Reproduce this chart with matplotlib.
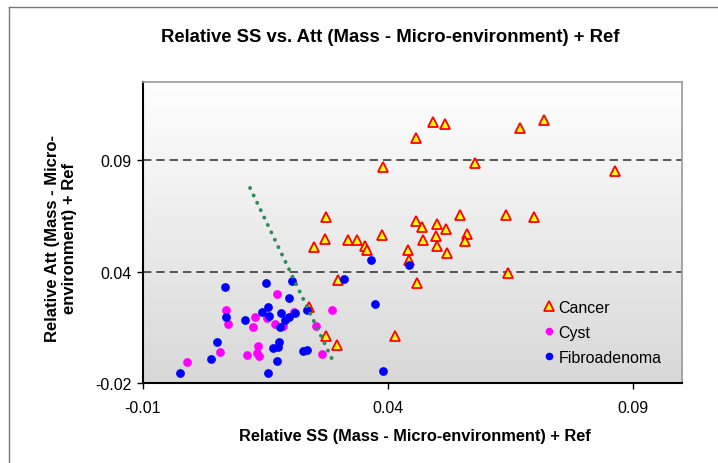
import matplotlib
matplotlib.use('Agg')
import matplotlib.pyplot as plt
import numpy as np
from matplotlib.lines import Line2D
from matplotlib.colors import LinearSegmentedColormap

plt.rcParams['font.family'] = ['Liberation Sans', 'DejaVu Sans']
plt.rcParams['lines.scale_dashes'] = False

title = 'Relative SS vs. Att (Mass - Micro-environment) + Ref'
x_label = 'Relative SS (Mass - Micro-environment) + Ref'
y_label = 'Relative Att (Mass - Micro-\nenvironment) + Ref'

cancer_x = [0.0492, 0.0516, 0.0670, 0.0719, 0.0457, 0.0390, 0.0578, 0.0864, 0.0274, 0.0548,
            0.0641, 0.0698, 0.0457, 0.0470, 0.0501, 0.0519, 0.0389, 0.0471, 0.0498, 0.0561,
            0.0558, 0.0501, 0.0520, 0.0441, 0.0443, 0.0645, 0.0460, 0.0249, 0.0271, 0.0318,
            0.0337, 0.0354, 0.0358, 0.0298, 0.0239, 0.0275, 0.0297, 0.0415]
cancer_y = [0.1021, 0.1015, 0.0997, 0.1033, 0.0951, 0.0818, 0.0837, 0.0802, 0.0594, 0.0606,
            0.0606, 0.0598, 0.0577, 0.0552, 0.0563, 0.0542, 0.0515, 0.0494, 0.0512, 0.0518,
            0.0490, 0.0466, 0.0435, 0.0446, 0.0402, 0.0346, 0.0299, 0.0463, 0.0496, 0.0494,
            0.0494, 0.0467, 0.0450, 0.0311, 0.0191, 0.0061, 0.0023, 0.0060]

cyst_x = [0.0174, 0.0069, 0.0075, 0.0130, 0.0125, 0.0153, 0.0169, 0.0187, 0.0208, 0.0253,
          0.0286, 0.0265, 0.0057, -0.0010, 0.0113, 0.0135, 0.0133, 0.0138]
cyst_y = [0.0250, 0.0177, 0.0118, 0.0149, 0.0104, 0.0141, 0.0118, 0.0109, 0.0170, 0.0107,
          0.0180, -0.0020, -0.0009, -0.0055, -0.0023, 0.0018, -0.0013, -0.0027]

fibro_x = [0.0067, 0.0152, 0.0205, 0.0198, 0.0155, 0.0144, 0.0157, 0.0069, 0.0108, 0.0183,
           0.0198, 0.0210, 0.0191, 0.0180, 0.0236, 0.0366, 0.0311, 0.0373, 0.0390, 0.0051,
           0.0039, -0.0024, 0.0155, 0.0175, 0.0179, 0.0166, 0.0177, 0.0228, 0.0236, 0.0444]
fibro_y = [0.0280, 0.0301, 0.0307, 0.0234, 0.0193, 0.0171, 0.0152, 0.0149, 0.0132, 0.0167,
           0.0149, 0.0163, 0.0132, 0.0104, 0.0179, 0.0404, 0.0319, 0.0205, -0.0096, 0.0035,
           -0.0040, -0.0103, -0.0103, -0.0048, 0.0033, 0.0008, 0.0011, -0.0007, 0.0000, 0.0381]

ref_line_x = [0.0119, 0.0288]
ref_line_y = [0.0726, -0.0049]

x_ticks = [-0.01, 0.04, 0.09]
x_tick_labels = ['-0.01', '0.04', '0.09']
y_ticks = [-0.015, 0.035, 0.085]
y_tick_labels = ['-0.02', '0.04', '0.09']
x_limits = (-0.01, 0.1)
y_limits = (-0.015, 0.12)

fig = plt.figure(figsize=(7.18, 4.64), dpi=100)
fig.patch.set_facecolor('white')
ax = fig.add_axes([0.1988, 0.1718, 0.7507, 0.6487])

# gradient background
grad = np.linspace(0, 1, 256).reshape(-1, 1)
cmap = LinearSegmentedColormap.from_list('bg', ['#ffffff', '#d8d8d8'])
ax.imshow(grad, extent=[0, 1, 0, 1], transform=ax.transAxes, cmap=cmap,
          aspect='auto', zorder=0, origin='upper', interpolation='bilinear')

for yv in y_ticks[1:]:
    ax.axhline(yv, color='#555555', lw=1.4, dashes=(6, 3.6), zorder=1)

ax.plot(cancer_x, cancer_y, linestyle='none', marker='^', markersize=6.5,
        markerfacecolor='#ffff00', markeredgecolor='#ff0000', markeredgewidth=1.3, zorder=3)
ax.plot(cyst_x, cyst_y, linestyle='none', marker='o', markersize=6.3,
        markerfacecolor='#ff00ff', markeredgecolor='#ff00ff', markeredgewidth=0, zorder=4)
ax.plot(fibro_x, fibro_y, linestyle='none', marker='o', markersize=6.3,
        markerfacecolor='#0000ff', markeredgecolor='#0000ff', markeredgewidth=0, zorder=5)
ax.plot(ref_line_x, ref_line_y, color='#2e8b57', lw=2.8, dashes=(0.1, 5.8),
        dash_capstyle='round', solid_capstyle='round', zorder=6)

ax.set_xlim(*x_limits)
ax.set_ylim(*y_limits)
ax.set_xticks(x_ticks)
ax.set_xticklabels(x_tick_labels)
ax.set_yticks(y_ticks)
ax.set_yticklabels(y_tick_labels)
ax.tick_params(axis='both', labelsize=11.5, length=4, width=1, direction='out', color='black')
ax.tick_params(axis='x', pad=8)
ax.tick_params(axis='y', pad=4)

for s in ['left', 'bottom']:
    ax.spines[s].set_color('black')
    ax.spines[s].set_linewidth(1.5)
for s in ['top', 'right']:
    ax.spines[s].set_color('#9a9a9a')
    ax.spines[s].set_linewidth(1.2)

handles = [
    Line2D([], [], linestyle='none', marker='^', markersize=6.5, markerfacecolor='#ffff00',
           markeredgecolor='#ff0000', markeredgewidth=1.3),
    Line2D([], [], linestyle='none', marker='o', markersize=5.5, markerfacecolor='#ff00ff',
           markeredgewidth=0),
    Line2D([], [], linestyle='none', marker='o', markersize=5.5, markerfacecolor='#0000ff',
           markeredgewidth=0),
]
ax.legend(handles, ['Cancer', 'Cyst', 'Fibroadenoma'], loc='upper left',
          bbox_to_anchor=(0.742, 0.278), frameon=False, fontsize=11.5,
          handlelength=0.8, handletextpad=0.2, labelspacing=0.64,
          borderaxespad=0, borderpad=0)

fig.text(390 / 718, 1 - 37 / 464, title, ha='center', va='center',
         fontsize=13.3, fontweight='bold')
fig.text(415 / 718, 1 - 437 / 464, x_label, ha='center', va='center',
         fontsize=11.8, fontweight='bold')
fig.text(61 / 718, 1 - 239 / 464, y_label, ha='center', va='center', rotation=90,
         fontsize=12, fontweight='bold', multialignment='center', linespacing=1.1)

# outer chart frame (only top and left edges are visible in the crop)
fig.add_artist(Line2D([9 / 718, 9 / 718], [0, 1 - 8 / 464], transform=fig.transFigure,
                      color='#777777', lw=1))
fig.add_artist(Line2D([9 / 718, 1], [1 - 8 / 464, 1 - 8 / 464], transform=fig.transFigure,
                      color='#777777', lw=1))

fig.savefig('out.png', dpi=100)
